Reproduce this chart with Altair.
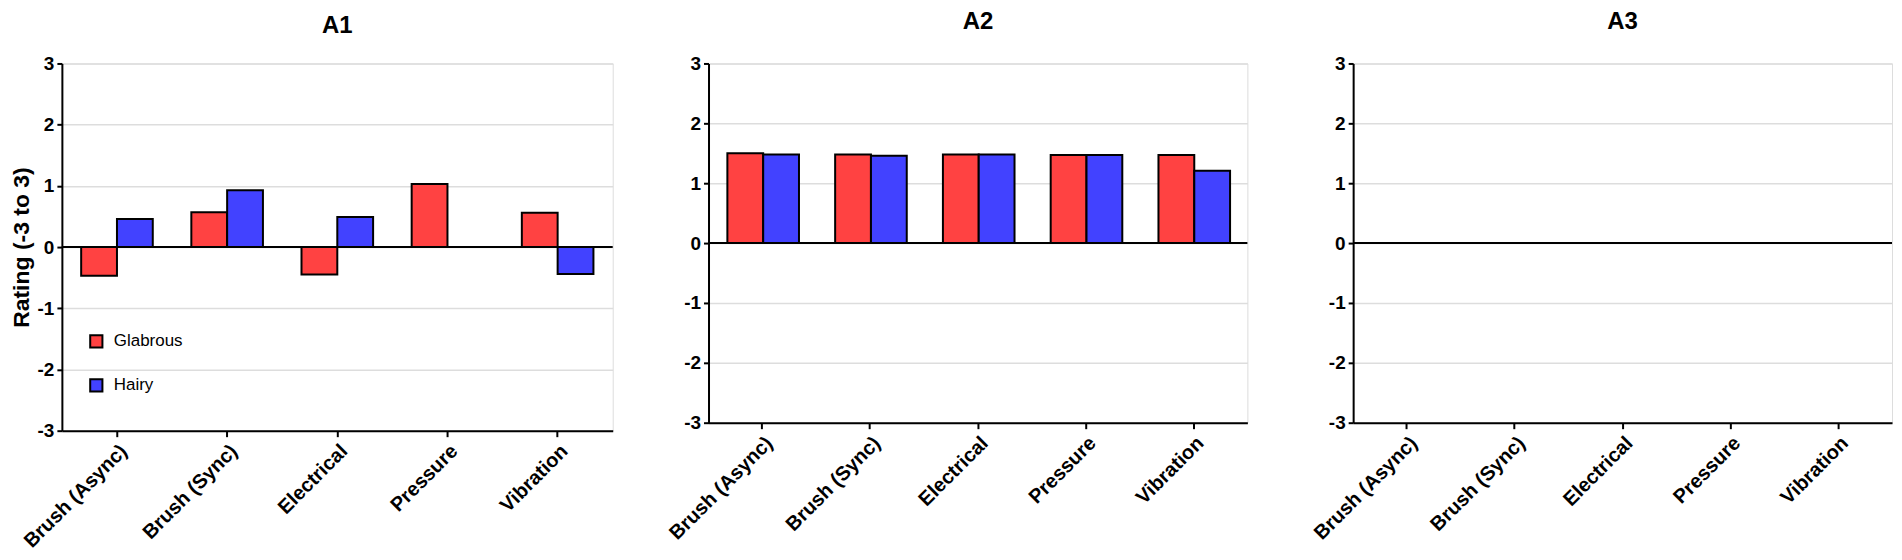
import altair as alt
import pandas as pd

categories = ["Brush (Async)", "Brush (Sync)", "Electrical", "Pressure", "Vibration"]
groups = ["Glabrous", "Hairy"]
colors = ["#FF4242", "#4242FF"]

a1_glabrous = [-0.47, 0.57, -0.45, 1.03, 0.56]
a1_hairy = [0.46, 0.93, 0.49, 0.0, -0.44]
a2_glabrous = [1.50, 1.48, 1.48, 1.47, 1.47]
a2_hairy = [1.48, 1.46, 1.48, 1.47, 1.21]
a3_glabrous = [None, None, None, None, None]
a3_hairy = [None, None, None, None, None]

y_ticks = [-3, -2, -1, 0, 1, 2, 3]
panel_titles = ["A1", "A2", "A3"]
y_title = "Rating (-3 to 3)"

FONT = "Liberation Sans"


def panel(title, glab, hairy, w, h, legend, ytitle, toffset):
    rows = []
    for c, gv, hv in zip(categories, glab, hairy):
        if gv is not None:
            rows.append({"cat": c, "group": "Glabrous", "value": gv})
        if hv is not None:
            rows.append({"cat": c, "group": "Hairy", "value": hv})
    df = pd.DataFrame(rows, columns=["cat", "group", "value"])

    x = alt.X(
        "cat:N",
        scale=alt.Scale(domain=categories, paddingInner=0.35, paddingOuter=0.175),
        axis=alt.Axis(
            title=None, labelAngle=-45, labelFontSize=20, labelFontWeight="bold",
            labelFont=FONT, labelColor="black", tickSize=6, tickWidth=2,
            tickColor="black", domainColor="black", domainWidth=2,
            labelPadding=4, grid=False, labelLimit=300,
        ),
    )
    y = alt.Y(
        "value:Q",
        scale=alt.Scale(domain=[-3, 3], nice=False, zero=False),
        axis=alt.Axis(
            title=ytitle, values=y_ticks, labelExpr="'' + datum.value",
            labelFontSize=19,
            labelFontWeight="bold", labelFont=FONT, labelColor="black",
            tickSize=5, tickWidth=2, tickColor="black", domainColor="black",
            domainWidth=2, labelPadding=3, grid=True, gridColor="#DDDDDD",
            gridWidth=1.5, titleFontSize=23, titleFontWeight="bold",
            titleFont=FONT, titleColor="black", titlePadding=4,
        ),
    )
    if legend:
        leg = alt.Legend(
            title=None, orient="none", legendX=26, legendY=270,
            symbolType="square", symbolSize=150, symbolStrokeColor="black",
            symbolStrokeWidth=2, symbolOpacity=1, labelFontSize=17,
            labelFont=FONT, labelColor="black", labelOffset=9,
            rowPadding=23, padding=0,
        )
    else:
        leg = None
    bars = alt.Chart(df).mark_bar(stroke="black", strokeWidth=2, opacity=1).encode(
        x=x,
        xOffset=alt.XOffset("group:N", scale=alt.Scale(domain=groups, paddingInner=0, paddingOuter=0)),
        y=y,
        color=alt.Color("group:N", scale=alt.Scale(domain=groups, range=colors), legend=leg),
    )
    zero = alt.Chart(pd.DataFrame({"z": [0]})).mark_rule(color="black", strokeWidth=2).encode(
        y=alt.Y("z:Q", scale=alt.Scale(domain=[-3, 3], nice=False, zero=False))
    )
    return alt.layer(bars, zero).properties(
        width=w, height=h,
        title=alt.TitleParams(title, fontSize=24, fontWeight="bold", font=FONT,
                              color="black", offset=toffset),
    )


p1 = panel(panel_titles[0], a1_glabrous, a1_hairy, 552, 368, True, y_title, 17)
p2 = panel(panel_titles[1], a2_glabrous, a2_hairy, 540, 360, False, None, 21)
p3 = panel(panel_titles[2], a3_glabrous, a3_hairy, 540, 360, False, None, 21)

right = alt.hconcat(p2, p3, spacing=60).resolve_scale(
    color="independent", x="independent", y="independent"
)

chart = alt.hconcat(p1, right, spacing=50).resolve_scale(
    color="independent", x="independent", y="independent"
).properties(
    padding={"left": 1, "top": 0, "right": 0, "bottom": 0}
).configure_view(stroke=None).configure(background="white")

chart.save("out.html", embed_options={"renderer": "svg", "actions": False})
